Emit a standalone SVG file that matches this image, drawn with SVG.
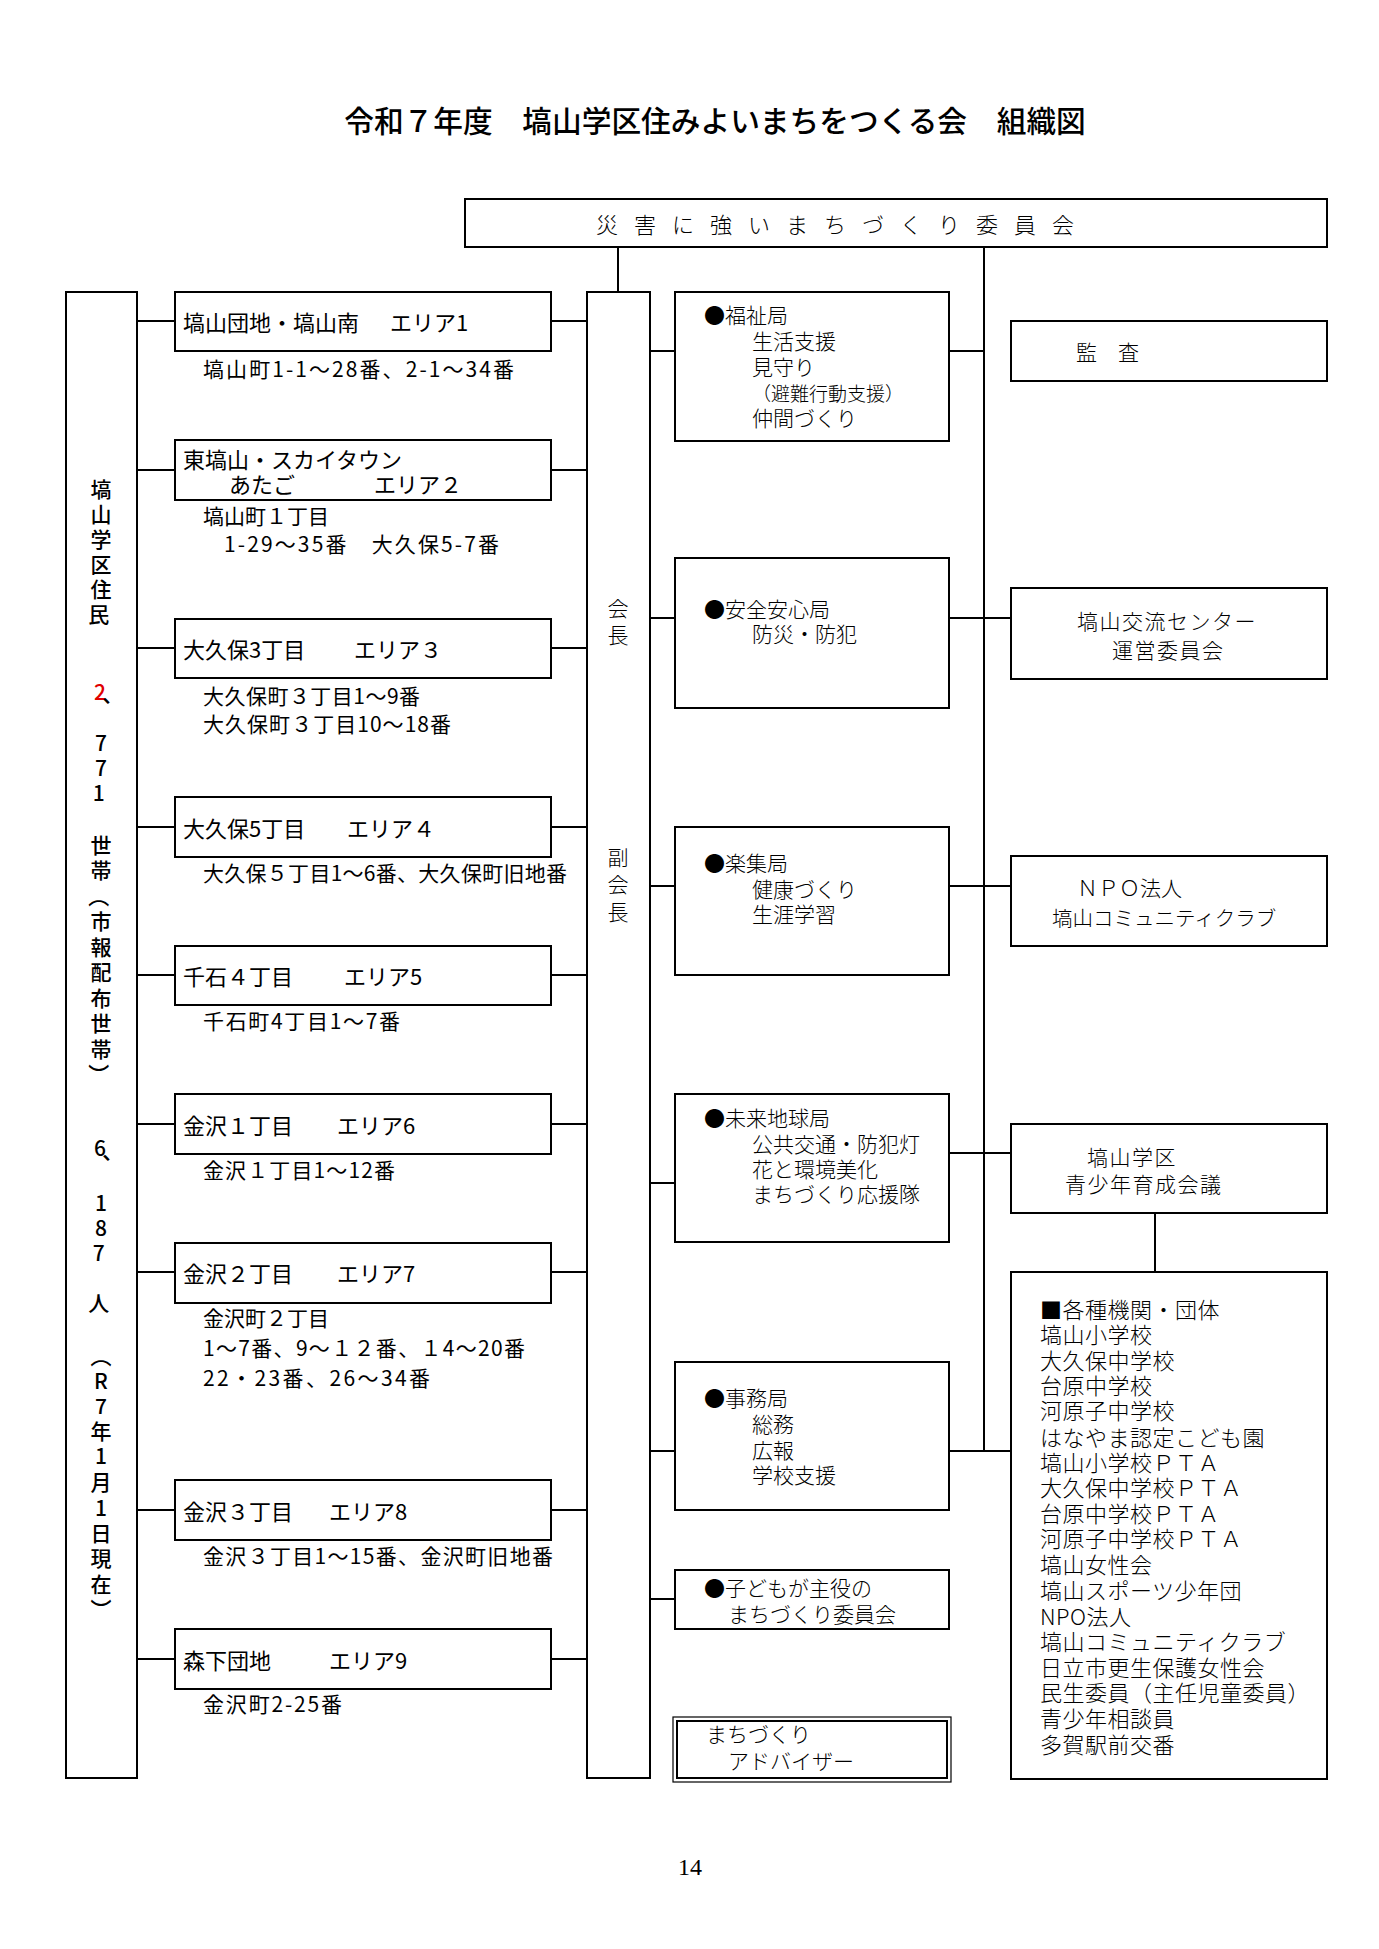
<svg xmlns="http://www.w3.org/2000/svg" width="1379" height="1949" viewBox="0 0 1379 1949">
<style>
.box{fill:#fff;stroke:#000;stroke-width:2}
.ln{stroke:#000;stroke-width:2;fill:none}
text{font-family:"Noto Sans CJK JP","Noto Sans CJK SC",sans-serif;dominant-baseline:central;fill:#000}
.t{font-size:29.7px;font-weight:500}
.g{font-size:22px}
.s{font-size:21px}
.v{font-size:21px;font-weight:500}
.m{font-size:21px;font-weight:300}
.pg{font-family:"Liberation Serif",serif;font-size:24px}
</style>
<rect width="1379" height="1949" fill="#fff"/>
<text class="t" x="715" y="119" text-anchor="middle">令和７年度　塙山学区住みよいまちをつくる会　組織図</text>

<g id="connectors">
<path class="ln" d="M618 247V292M984 247V1451"/>
<path class="ln" d="M137 321H175M137 470H175M137 648H175M137 827H175M137 975H175M137 1124H175M137 1272H175M137 1510H175M137 1659H175"/>
<path class="ln" d="M551 321H587M551 470H587M551 648H587M551 827H587M551 975H587M551 1124H587M551 1272H587M551 1510H587M551 1659H587"/>
<path class="ln" d="M650 351H675M650 618H675M650 886H675M650 1183H675M650 1451H675M650 1599H675"/>
<path class="ln" d="M949 351H984M949 618H1011M949 886H1011M949 1153H1011M949 1451H1011"/>
<path class="ln" d="M1155 1213V1272"/>
</g>

<g id="top-committee">
<rect class="box" x="465" y="199" width="862" height="48"/>
<text class="m" x="596" y="223" style="font-size:22px;letter-spacing:16px">災害に強いまちづくり委員会</text>
</g>

<g id="residents">
<rect class="box" x="66" y="292" width="71" height="1486"/>
<text class="v" text-anchor="middle">
<tspan x="101" y="488">塙</tspan><tspan x="101" y="513">山</tspan><tspan x="101" y="538">学</tspan><tspan x="101" y="563">区</tspan><tspan x="101" y="588">住</tspan><tspan x="101" y="613">民</tspan>
<tspan x="100" y="691" fill="#e00000">2</tspan><tspan x="115" y="693">、</tspan>
<tspan x="101" y="742">7</tspan><tspan x="101" y="767">7</tspan><tspan x="101" y="792">1</tspan>
<tspan x="101" y="844">世</tspan><tspan x="101" y="869">帯</tspan><tspan x="101" y="895">︵</tspan>
<tspan x="101" y="920">市</tspan><tspan x="101" y="946">報</tspan><tspan x="101" y="971">配</tspan><tspan x="101" y="997">布</tspan><tspan x="101" y="1022">世</tspan><tspan x="101" y="1048">帯</tspan><tspan x="101" y="1073">︶</tspan>
<tspan x="100" y="1147">6</tspan><tspan x="115" y="1150">、</tspan>
<tspan x="101" y="1202">1</tspan><tspan x="101" y="1227">8</tspan><tspan x="101" y="1252">7</tspan>
<tspan x="101" y="1302">人</tspan>
<tspan x="101" y="1355">︵</tspan><tspan x="101" y="1380">R</tspan><tspan x="101" y="1405">7</tspan><tspan x="101" y="1430">年</tspan><tspan x="101" y="1455">1</tspan><tspan x="101" y="1481">月</tspan><tspan x="101" y="1507">1</tspan><tspan x="101" y="1532">日</tspan><tspan x="101" y="1557">現</tspan><tspan x="101" y="1583">在</tspan><tspan x="101" y="1608">︶</tspan>
</text>
</g>

<g id="area1">
<rect class="box" x="175" y="292" width="376" height="59"/>
<text class="g" y="321"><tspan x="183">塙山団地・塙山南</tspan><tspan x="390">エリア1</tspan></text>
<text class="s" x="203" y="368" textLength="311">塙山町1-1～28番、2-1～34番</text>
</g>
<g id="area2">
<rect class="box" x="175" y="440" width="376" height="60"/>
<text class="g" x="183" y="458">東塙山・スカイタウン</text>
<text class="g" y="483"><tspan x="229">あたご</tspan><tspan x="374">エリア２</tspan></text>
<text class="s" x="203" y="515">塙山町１丁目</text>
<text class="s" x="224" y="543" textLength="275">1-29～35番　大久保5-7番</text>
</g>
<g id="area3">
<rect class="box" x="175" y="619" width="376" height="59"/>
<text class="g" y="648"><tspan x="183">大久保3丁目</tspan><tspan x="354">エリア３</tspan></text>
<text class="s" x="203" y="695" textLength="217">大久保町３丁目1～9番</text>
<text class="s" x="203" y="723" textLength="248">大久保町３丁目10～18番</text>
</g>
<g id="area4">
<rect class="box" x="175" y="797" width="376" height="60"/>
<text class="g" y="827"><tspan x="183">大久保5丁目</tspan><tspan x="347">エリア４</tspan></text>
<text class="s" x="203" y="872" textLength="364">大久保５丁目1～6番、大久保町旧地番</text>
</g>
<g id="area5">
<rect class="box" x="175" y="946" width="376" height="59"/>
<text class="g" y="975"><tspan x="183">千石４丁目</tspan><tspan x="344">エリア5</tspan></text>
<text class="s" x="203" y="1020" textLength="197">千石町4丁目1～7番</text>
</g>
<g id="area6">
<rect class="box" x="175" y="1094" width="376" height="60"/>
<text class="g" y="1124"><tspan x="183">金沢１丁目</tspan><tspan x="337">エリア6</tspan></text>
<text class="s" x="203" y="1169" textLength="192">金沢１丁目1～12番</text>
</g>
<g id="area7">
<rect class="box" x="175" y="1243" width="376" height="60"/>
<text class="g" y="1272"><tspan x="183">金沢２丁目</tspan><tspan x="337">エリア7</tspan></text>
<text class="s" x="203" y="1317">金沢町２丁目</text>
<text class="s" x="203" y="1347" textLength="322">1～7番、9～１２番、１4～20番</text>
<text class="s" x="203" y="1377" textLength="227">22・23番、26～34番</text>
</g>
<g id="area8">
<rect class="box" x="175" y="1480" width="376" height="60"/>
<text class="g" y="1510"><tspan x="183">金沢３丁目</tspan><tspan x="329">エリア8</tspan></text>
<text class="s" x="203" y="1555" textLength="350">金沢３丁目1～15番、金沢町旧地番</text>
</g>
<g id="area9">
<rect class="box" x="175" y="1629" width="376" height="60"/>
<text class="g" y="1659"><tspan x="183">森下団地</tspan><tspan x="329">エリア9</tspan></text>
<text class="s" x="203" y="1703" textLength="139">金沢町2-25番</text>
</g>

<g id="chair">
<rect class="box" x="587" y="292" width="63" height="1486"/>
<text class="m" text-anchor="middle"><tspan x="618" y="607">会</tspan><tspan x="618" y="634">長</tspan></text>
<text class="m" text-anchor="middle"><tspan x="618" y="856">副</tspan><tspan x="618" y="883">会</tspan><tspan x="618" y="911">長</tspan></text>
</g>

<g id="welfare">
<rect class="box" x="675" y="292" width="274" height="149"/>
<text class="m" x="704" y="314">●福祉局</text>
<text class="m" x="752" y="340">生活支援</text>
<text class="m" x="752" y="366">見守り</text>
<text class="m" x="752" y="392" style="font-size:19px">（避難行動支援）</text>
<text class="m" x="752" y="417">仲間づくり</text>
</g>
<g id="safety">
<rect class="box" x="675" y="558" width="274" height="150"/>
<text class="m" x="704" y="608">●安全安心局</text>
<text class="m" x="752" y="633">防災・防犯</text>
</g>
<g id="rakushu">
<rect class="box" x="675" y="827" width="274" height="148"/>
<text class="m" x="704" y="862">●楽集局</text>
<text class="m" x="752" y="888">健康づくり</text>
<text class="m" x="752" y="913">生涯学習</text>
</g>
<g id="future">
<rect class="box" x="675" y="1094" width="274" height="148"/>
<text class="m" x="704" y="1117">●未来地球局</text>
<text class="m" x="752" y="1143">公共交通・防犯灯</text>
<text class="m" x="752" y="1168">花と環境美化</text>
<text class="m" x="752" y="1193">まちづくり応援隊</text>
</g>
<g id="office">
<rect class="box" x="675" y="1362" width="274" height="148"/>
<text class="m" x="704" y="1397">●事務局</text>
<text class="m" x="752" y="1423">総務</text>
<text class="m" x="752" y="1449">広報</text>
<text class="m" x="752" y="1474">学校支援</text>
</g>
<g id="children">
<rect class="box" x="675" y="1570" width="274" height="59"/>
<text class="m" x="704" y="1587">●子どもが主役の</text>
<text class="m" x="728" y="1613">まちづくり委員会</text>
</g>
<g id="advisor">
<rect x="673" y="1717" width="278" height="65" fill="#fff" stroke="#000" stroke-width="1.2"/>
<rect x="677" y="1721" width="270" height="57" fill="none" stroke="#000" stroke-width="2"/>
<text class="m" x="706" y="1733">まちづくり</text>
<text class="m" x="728" y="1760">アドバイザー</text>
</g>

<g id="audit">
<rect class="box" x="1011" y="321" width="316" height="60"/>
<text class="m" x="1076" y="351">監　査</text>
</g>
<g id="center">
<rect class="box" x="1011" y="588" width="316" height="91"/>
<text class="m" x="1077" y="620" style="letter-spacing:1.5px">塙山交流センター</text>
<text class="m" x="1112" y="649" style="letter-spacing:1.5px">運営委員会</text>
</g>
<g id="npo">
<rect class="box" x="1011" y="856" width="316" height="90"/>
<text class="m" x="1077" y="887">ＮＰＯ法人</text>
<text class="m" x="1052" y="917" style="font-size:20.5px">塙山コミュニティクラブ</text>
</g>
<g id="youth">
<rect class="box" x="1011" y="1124" width="316" height="89"/>
<text class="m" x="1087" y="1156" style="letter-spacing:1.5px">塙山学区</text>
<text class="m" x="1065" y="1183" style="letter-spacing:1.5px">青少年育成会議</text>
</g>
<g id="orgs">
<rect class="box" x="1011" y="1272" width="316" height="507"/>
<text class="m" x="1040" style="font-size:22px;letter-spacing:0.5px">
<tspan x="1040" y="1308">■各種機関・団体</tspan>
<tspan x="1040" y="1333">塙山小学校</tspan>
<tspan x="1040" y="1359">大久保中学校</tspan>
<tspan x="1040" y="1384">台原中学校</tspan>
<tspan x="1040" y="1409">河原子中学校</tspan>
<tspan x="1040" y="1436">はなやま認定こども園</tspan>
<tspan x="1040" y="1461">塙山小学校ＰＴＡ</tspan>
<tspan x="1040" y="1486">大久保中学校ＰＴＡ</tspan>
<tspan x="1040" y="1512">台原中学校ＰＴＡ</tspan>
<tspan x="1040" y="1537">河原子中学校ＰＴＡ</tspan>
<tspan x="1040" y="1563">塙山女性会</tspan>
<tspan x="1040" y="1589">塙山スポーツ少年団</tspan>
<tspan x="1040" y="1615">NPO法人</tspan>
<tspan x="1040" y="1640">塙山コミュニティクラブ</tspan>
<tspan x="1040" y="1666">日立市更生保護女性会</tspan>
<tspan x="1040" y="1691">民生委員（主任児童委員）</tspan>
<tspan x="1040" y="1717">青少年相談員</tspan>
<tspan x="1040" y="1743">多賀駅前交番</tspan>
</text>
</g>

<text class="pg" x="690" y="1867" text-anchor="middle">14</text>
</svg>
